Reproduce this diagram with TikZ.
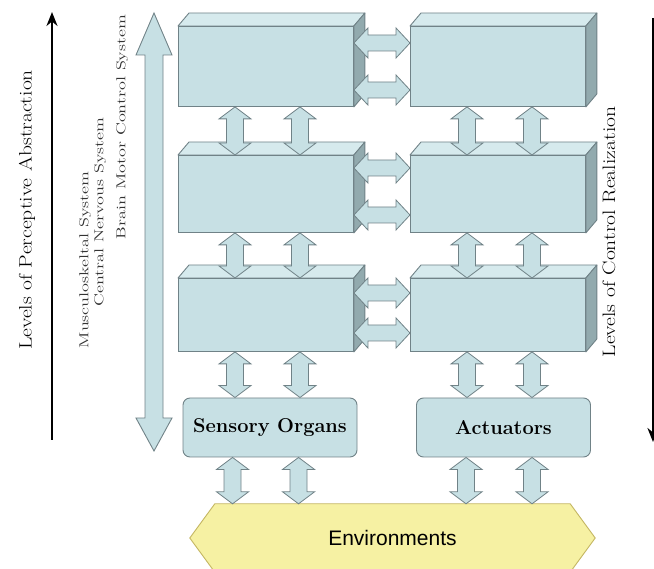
\documentclass[tikz,border=0pt]{standalone}
\usepackage{fontspec}
\newfontfamily\envfont{Liberation Sans}
\usetikzlibrary{calc,arrows.meta}

\definecolor{blockfill}{RGB}{199,224,228}
\definecolor{blocktop}{RGB}{214,234,237}
\definecolor{blockside}{RGB}{146,170,174}
\definecolor{blockline}{RGB}{112,130,135}
\definecolor{envfill}{RGB}{246,241,163}
\definecolor{envline}{RGB}{196,182,98}

\tikzset{
  front/.style={draw=blockline, fill=blockfill, line width=0.9pt, minimum width=175pt, inner sep=0pt, anchor=north west},
  topface/.style={draw=blockline, fill=blocktop, line width=0.9pt, line join=round},
  sideface/.style={draw=blockline, fill=blockside, line width=0.9pt, line join=round},
  organ/.style={draw=blockline, fill=blockfill, line width=0.9pt, rounded corners=7pt, minimum width=174pt, minimum height=59pt, inner sep=0pt, font=\fontsize{20}{22}\selectfont\bfseries},
  vbar/.style={draw=blockline, fill=blockfill, line width=0.8pt,
    to path={let \p1=(\tikztostart), \p2=(\tikztotarget) in
      (\p1) -- (\x1+16pt,\y1-12pt) -- (\x1+8.5pt,\y1-12pt) -- (\x1+8.5pt,\y2+12pt) -- (\x1+16pt,\y2+12pt)
      -- (\x1,\y2) -- (\x1-16pt,\y2+12pt) -- (\x1-8.5pt,\y2+12pt) -- (\x1-8.5pt,\y1-12pt) -- (\x1-16pt,\y1-12pt) -- cycle}},
  hbar/.style={draw=blockline, fill=blockfill, line width=0.8pt,
    to path={let \p1=(\tikztostart), \p2=(\tikztotarget) in
      (\p1) -- (\x1+14pt,\y1+15pt) -- (\x1+14pt,\y1+8pt) -- (\x2-14pt,\y1+8pt) -- (\x2-14pt,\y1+15pt)
      -- (\x2,\y1) -- (\x2-14pt,\y1-15pt) -- (\x2-14pt,\y1-8pt) -- (\x1+14pt,\y1-8pt) -- (\x1+14pt,\y1-15pt) -- cycle}},
  axis/.style={line width=2.2pt, -{Stealth[length=14pt,width=11pt]}},
  axistext/.style={rotate=90, xscale=1.2, font=\fontsize{18}{20}\selectfont},
  sidetext/.style={rotate=90, xscale=1.4, font=\fontsize{13}{15}\selectfont, text=black!80},
}

\begin{document}
\begin{tikzpicture}[x=1pt,y=-1pt]
  \useasboundingbox (0,0) rectangle (654,569);

  \coordinate (perctop) at (52,12);
  \coordinate (percbot) at (52,440);
  \coordinate (ctrltop) at (653,18);
  \coordinate (ctrlbot) at (653,442);
  \draw[axis] (percbot) -- (perctop);
  \draw[axis] (ctrltop) -- (ctrlbot);
  \node[axistext] (perc) at (27,210) {Levels of Perceptive Abstraction};
  \node[axistext] (ctrl) at (609,232) {Levels of Control Realization};

  \filldraw[draw=blockline, fill=blockfill, line width=0.9pt] (154,13) -- (172,55) -- (163,55) -- (163,418)
    -- (172,418) -- (154,451) -- (136,418) -- (145,418) -- (145,55) -- (136,55) -- cycle;
  \node[sidetext] (musc) at (85,260) {Musculoskeltal System};
  \node[sidetext] (cns) at (100,212) {Central Nervous System};
  \node[sidetext] (brain) at (122,127) {Brain Motor Control System};

  \foreach \row/\ry/\rh in {1/26/80,2/155/77,3/278/73} {
    \node[front, minimum height=\rh pt] (L\row) at (178,\ry) {};
    \node[front, minimum height=\rh pt] (R\row) at (410,\ry) {};
  }
  \foreach \b in {L1,L2,L3,R1,R2,R3} {
    \draw[topface] (\b.north west) -- ++(11,-13) -- ($(\b.north east)+(11,-13)$) -- (\b.north east) -- cycle;
    \draw[sideface] (\b.north east) -- ++(11,-13) -- ($(\b.south east)+(11,-13)$) -- (\b.south east) -- cycle;
  }

  \node[organ] (sense) at (270,427.5) {Sensory Organs};
  \node[organ] (act) at (503.5,427.5) {Actuators};

  \node[minimum width=355pt, minimum height=68pt, inner sep=0pt] (env) at (392.5,538) {};
  \filldraw[draw=envline, fill=envfill, line width=0.9pt] (env.north west) -- (env.north east) -- ($(env.east)+(25,0)$)
    -- (env.south east) -- (env.south west) -- ($(env.west)+(-25,0)$) -- cycle;
  \node[font=\envfont\fontsize{21}{24}\selectfont] (envtext) at (env) {Environments};

  \foreach \row/\ya/\yb in {1/17/64,2/13/60,3/15/55} {
    \draw[hbar] ($(L\row.north east)+(0,\ya)$) to (R\row.west);
    \draw[hbar] ($(L\row.north east)+(0,\yb)$) to (R\row.west);
  }
  \foreach \upper/\lower in {L1/L2,L2/L3,L3/sense,R1/R2,R2/R3,R3/act} {
    \foreach \dx in {57,122} {
      \draw[vbar] ($(\upper.south west)+(\dx,0)$) to (\lower.north);
    }
  }
  \foreach \upper in {sense,act} {
    \foreach \dx in {50,116} {
      \draw[vbar] ($(\upper.south west)+(\dx,0)$) to (env.north);
    }
  }
\end{tikzpicture}
\end{document}
